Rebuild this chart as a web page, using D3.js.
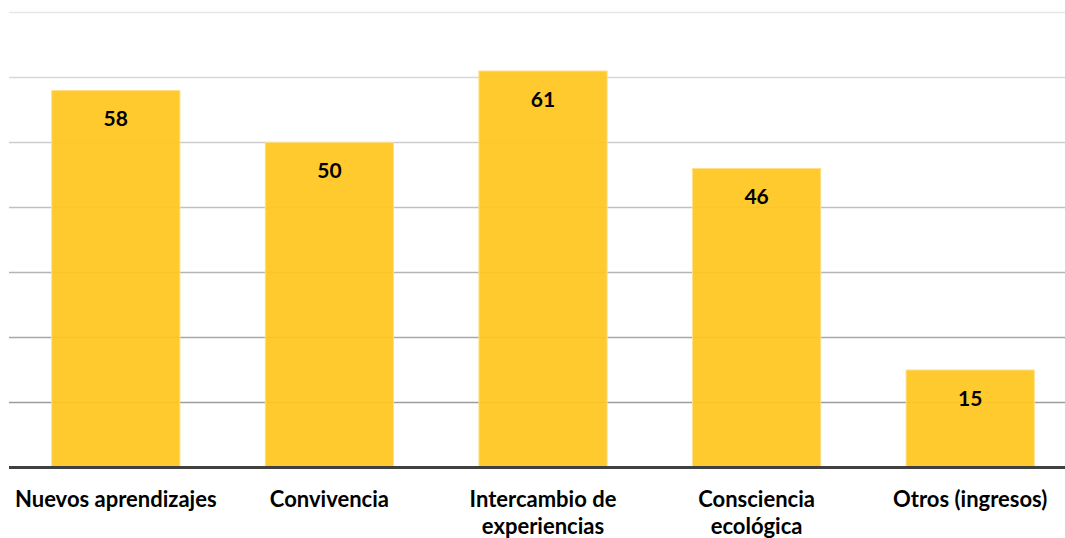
<!DOCTYPE html>
<html><head><meta charset="utf-8">
<script src="https://cdn.jsdelivr.net/npm/d3@7"></script>
<style>html,body{margin:0;padding:0;background:#fff;overflow:hidden}</style>
</head><body>
<svg id="c" width="1065" height="538"></svg>
<script>
const categories = ["Nuevos aprendizajes", "Convivencia", "Intercambio de experiencias", "Consciencia ecológica", "Otros (ingresos)"];
const labelLines = [["Nuevos aprendizajes"], ["Convivencia"], ["Intercambio de", "experiencias"], ["Consciencia", "ecológica"], ["Otros (ingresos)"]];
const values = [58, 50, 61, 46, 15];
const yTicks = [10, 20, 30, 40, 50, 60, 70];
const gridColors = ["#9c9c9c", "#a8a8a8", "#b4b4b4", "#c0c0c0", "#cccccc", "#d8d8d8", "#e6e6e6"];

const svg = d3.select("#c");
const x = d3.scaleBand().domain(categories).range([9, 1077]).paddingInner(0.4).paddingOuter(0.2);
const y = d3.scaleLinear().domain([0, 70]).range([467.5, 12.5]);
const font = "Lato, 'Open Sans', sans-serif";

// gridlines
svg.append("g").selectAll("line").data(yTicks).join("line")
  .attr("x1", 9).attr("x2", 1077)
  .attr("y1", d => y(d)).attr("y2", d => y(d))
  .attr("stroke", (d, i) => gridColors[i]).attr("stroke-width", 1.5);

// bars
svg.append("g").selectAll("rect").data(values).join("rect")
  .attr("x", (d, i) => x(categories[i]))
  .attr("width", x.bandwidth())
  .attr("y", d => y(d))
  .attr("height", d => y(0) - y(d))
  .attr("fill", "#ffc61e").attr("fill-opacity", 0.93)
  .attr("stroke", "#ffde85").attr("stroke-width", 1);

// baseline
svg.append("line").attr("x1", 9).attr("x2", 1077).attr("y1", y(0)).attr("y2", y(0))
  .attr("stroke", "#404040").attr("stroke-width", 3);

// value labels
svg.append("g").selectAll("text").data(values).join("text")
  .attr("x", (d, i) => x(categories[i]) + x.bandwidth() / 2)
  .attr("y", d => y(d) + 35.5)
  .attr("text-anchor", "middle")
  .style("font-family", font).style("font-weight", "bold").style("font-size", "21px")
  .attr("fill", "#000").text(d => d);

// category labels
const lab = svg.append("g").selectAll("text").data(categories).join("text")
  .attr("x", d => x(d) + x.bandwidth() / 2)
  .attr("y", 507)
  .attr("text-anchor", "middle")
  .style("font-family", font).style("font-weight", "bold").style("font-size", "22px")
  .attr("fill", "#000");
lab.selectAll("tspan").data((d, i) => labelLines[i]).join("tspan")
  .attr("x", function() { return d3.select(this.parentNode).attr("x"); })
  .attr("dy", (d, j) => j === 0 ? 0 : 27)
  .text(d => d);
</script>
</body></html>
